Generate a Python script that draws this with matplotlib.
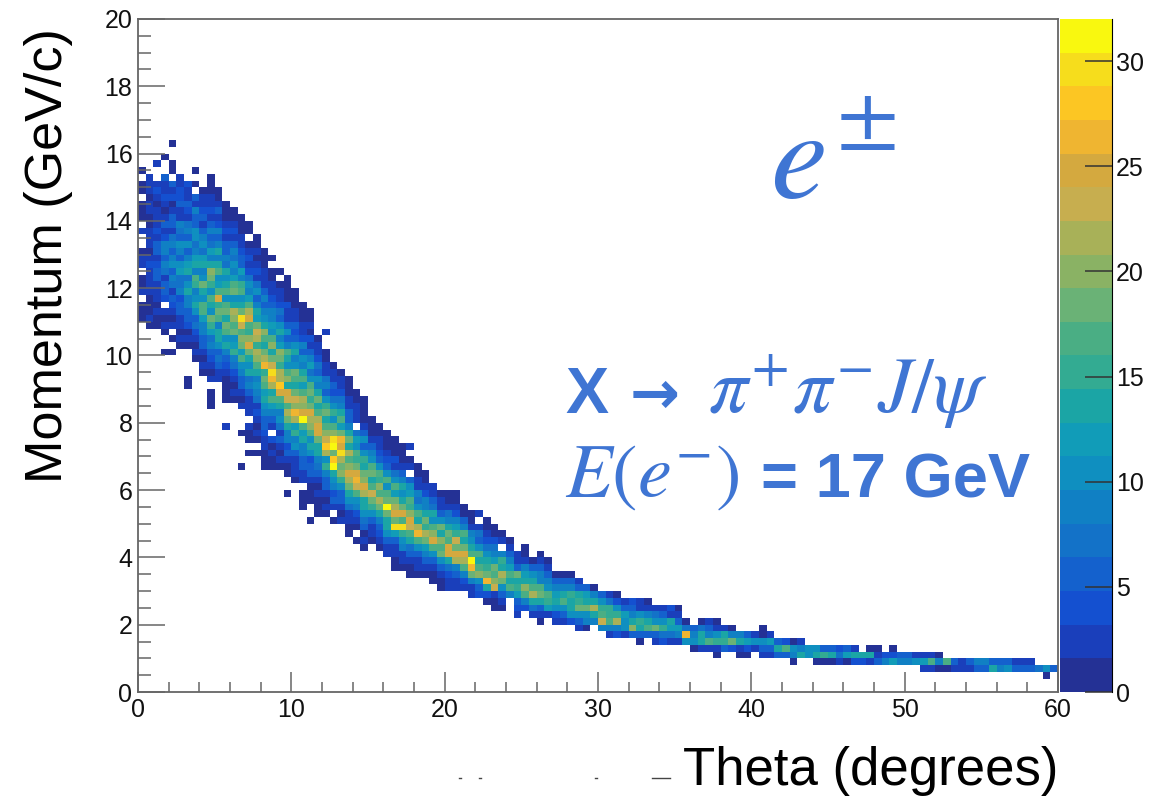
import numpy as np
import matplotlib
matplotlib.use('Agg')
import matplotlib.pyplot as plt
from matplotlib.colors import ListedColormap, BoundaryNorm
from matplotlib.lines import Line2D
from matplotlib.ticker import MultipleLocator

plt.rcParams['font.family'] = ['Liberation Sans', 'DejaVu Sans']
plt.rcParams['mathtext.fontset'] = 'stix'

# histogram binning: 120 bins in theta (0-60), 100 bins in momentum (0-20)
theta_edges = np.linspace(0, 60, 121)
mom_edges = np.linspace(0, 20, 101)

# counts, one list per theta bin, going up from the
# momentum bin in col_start
col_start = [55, 54, 54, 50, 50, 51, 45, 49, 47, 42, 46, 39, 43, 33, 35, 35, 33, 33, 33, 29,
             31, 27, 25, 26, 26, 25, 25, 23, 22, 21, 22, 21, 20, 18, 18, 17, 17, 17, 16, 15,
             15, 15, 15, 14, 14, 13, 12, 12, 14, 11, 12, 11, 10, 11, 10, 10, 10, 9, 9, 10,
             9, 8, 8, 8, 8, 7, 8, 7, 7, 7, 7, 7, 6, 6, 6, 5, 6, 6, 5, 5,
             6, 5, 5, 5, 5, 4, 5, 5, 4, 4, 4, 4, 4, 4, 4, 4, 4, 4, 4, 4,
             4, 4, 3, 3, 3, 3, 3, 3, 3, 3, 3, 3, 3, 3, 3, 3, 3, 3, 2, 3]
col_counts = [
    [1,1,1,0,2,1,1,0,2,3,1,0,0,2,0,1,1,1,0,1,1,0,1],
    [1,2,1,1,1,3,3,2,2,4,3,1,2,2,3,1,1,3,2,1,3,2,3],
    [1,1,3,1,3,2,2,5,6,4,3,5,6,3,4,2,3,3,1,2,4,3,0,0,3],
    [1,0,0,1,2,1,2,0,4,6,6,3,7,9,5,8,8,4,3,5,2,1,3,4,2,2,5,0,0,1],
    [1,0,1,0,3,1,2,4,6,3,7,8,5,10,9,5,8,7,3,6,6,2,1,4,3,5,0,1,1,0,0,1],
    [1,2,1,3,2,5,6,4,9,7,7,12,10,6,8,11,5,7,9,3,2,5,4,4,2,3],
    [1,1,0,0,0,0,1,2,1,4,6,5,9,8,13,11,7,14,12,8,6,10,5,9,7,3,4,6,3,2,4],
    [1,2,1,3,4,7,6,11,14,10,9,15,16,9,14,12,8,7,11,10,5,6,8,3,5,0,1,0,1],
    [1,2,1,3,6,5,9,8,12,16,17,10,13,18,11,9,14,12,7,10,9,5,3,6,4,2,2,1],
    [1,1,1,0,3,1,2,4,6,9,7,12,15,18,11,14,16,10,15,18,20,13,9,12,7,5,8,6,3,4,2,2,1,1,1],
    [2,3,5,7,6,10,14,13,9,17,19,15,24,16,12,11,17,14,9,13,8,6,9,4,3,5,2,1,1],
    [3,0,0,0,1,1,1,1,2,4,6,8,13,11,17,19,14,18,16,11,17,13,10,14,7,9,5,6,3,4,2,1,1,1],
    [1,2,1,2,4,7,9,15,12,10,18,17,20,21,14,11,19,16,12,9,10,7,8,5,3,4,2,1,1],
    [1,0,0,0,0,1,0,0,0,2,1,3,6,5,9,11,16,12,18,20,17,23,29,19,14,10,16,15,9,12,6,5,4,2,3,1,1,1],
    [1,0,1,1,2,0,2,3,2,5,8,7,13,10,14,19,25,20,15,17,24,22,16,12,8,11,7,4,2,4,2,1,0,1,1],
    [1,0,1,2,1,3,4,2,7,9,11,8,13,17,20,22,15,21,23,18,12,14,9,6,10,7,3,4,2,1,2,1,1],
    [1,1,1,3,2,4,6,5,8,11,14,12,16,18,15,27,22,19,14,17,20,13,10,8,6,9,5,3,3,2,1,1,1],
    [1,1,2,1,4,0,3,6,8,12,16,13,22,27,30,23,18,14,20,16,11,12,8,9,5,4,2,3,1,1,0,1],
    [1,2,1,2,5,3,7,11,9,14,17,24,28,21,22,15,18,20,12,9,14,10,6,7,4,2,3,1,0,1],
    [1,0,0,1,1,3,6,4,9,8,13,18,21,17,23,24,14,20,16,11,13,17,8,6,10,5,3,2,4,1,1,1,1],
    [1,2,3,3,6,10,9,15,12,21,26,20,23,18,14,16,19,11,8,13,10,6,4,5,3,2,1,1,1],
    [1,1,1,0,2,3,6,5,8,9,14,12,17,32,25,20,21,17,12,16,13,9,11,6,8,4,2,3,1,1,1],
    [1,0,0,1,1,1,3,6,5,4,10,14,11,16,20,22,24,18,15,19,16,11,7,12,8,5,3,4,1,2,1,1],
    [1,1,1,3,1,3,5,7,9,14,13,18,24,25,21,17,14,18,13,9,10,6,7,4,2,3,1],
    [1,2,1,3,5,6,9,15,11,21,28,23,20,17,14,18,15,10,6,9,7,3,2,1,1,0,0,3],
    [1,0,3,5,4,8,11,14,31,28,19,31,29,20,16,11,15,11,7,4,6,2,2,1],
    [2,1,3,5,6,11,15,20,18,22,29,24,26,19,12,16,13,9,7,4,3,2,1],
    [1,1,3,2,7,10,13,18,22,25,20,16,22,14,18,13,9,6,5,3,2,1,1,1],
    [1,0,1,3,4,8,11,17,23,27,24,19,15,16,10,12,7,0,2,3,2,1,1],
    [1,2,1,5,7,10,14,13,22,25,20,18,14,15,10,6,11,5,2,1,1,1,1],
    [1,2,3,5,11,15,19,23,17,14,19,16,11,9,6,3,1,1,1],
    [1,2,4,6,9,14,19,21,16,20,15,17,11,6,4,3,2,1,1],
    [2,3,5,10,13,14,18,31,19,17,11,16,10,6,4,2,1,1,1],
    [1,1,2,3,5,12,29,19,25,22,18,12,16,10,7,3,4,1,1,1],
    [1,2,3,8,10,15,29,16,24,19,14,10,14,8,5,3,1,1,1],
    [1,1,3,6,7,14,17,23,25,20,15,16,12,10,6,0,3,1,0,2],
    [1,2,2,5,11,16,26,21,14,17,11,7,9,3,2,1,1],
    [1,3,5,8,12,19,22,15,18,14,9,8,4,2,1,1],
    [1,1,3,6,11,16,24,20,17,11,14,7,5,2,2],
    [1,1,3,6,11,19,16,20,14,18,11,6,3,3,1],
    [2,2,4,7,13,25,24,17,19,14,8,7,3,1,1],
    [2,3,6,9,21,25,19,23,15,12,9,4,2,1,1],
    [3,4,8,16,22,24,18,14,16,8,5,1,1],
    [3,3,9,18,26,31,16,13,10,8,3,1,1],
    [4,6,11,20,17,13,16,11,6,7,2,0,2],
    [1,4,13,26,18,15,14,11,7,4,3,1,1],
    [1,1,3,23,20,16,18,12,9,7,4,1,1],
    [1,2,5,11,18,21,14,15,8,0,2,1],
    [8,16,14,17,12,9,5,3,1],
    [2,4,6,12,15,13,18,6,3,2],
    [4,9,17,20,13,12,8,2,1,1],
    [2,7,14,22,16,13,11,5,1],
    [1,3,6,14,19,17,9,8,5,2,1],
    [2,12,15,17,10,8,5,3,1],
    [3,4,10,14,12,8,6,1],
    [3,5,11,16,13,8,5,1],
    [4,10,14,14,15,8,5,1],
    [2,5,11,19,15,13,5,3],
    [1,9,11,18,13,12,6],
    [9,14,21,14,9,1],
    [8,23,17,15,10,6],
    [3,9,16,15,15,7,2],
    [4,8,22,15,11,4,1],
    [3,10,11,12,5,3],
    [5,20,14,9,5,4],
    [1,6,14,15,10,2,2],
    [6,17,14,9,3,1],
    [2,5,18,11,7,2],
    [4,7,15,10,5,2],
    [3,7,12,13,3,4],
    [2,9,12,6,2,1],
    [10,27,7,1],
    [1,11,8,6],
    [2,14,13,7,1],
    [3,17,9,5,2],
    [1,3,15,11,3,1],
    [5,15,14,2],
    [4,19,9,1],
    [1,3,14,9],
    [1,4,12,5],
    [3,11,3],
    [2,6,10,1,1],
    [3,5,12,2],
    [5,13,5],
    [6,17,4],
    [1,8,11,1],
    [14,9,2],
    [11,10],
    [1,14,11],
    [1,15,5],
    [1,14,5],
    [2,7,4],
    [1,12,5],
    [4,13,3],
    [4,13],
    [3,14,1],
    [6,2,1],
    [9,4],
    [12,4,1],
    [8,5],
    [9,6],
    [10,3],
    [3,12,2],
    [2,16,2],
    [1,8,1],
    [1,17],
    [3,5],
    [2,3],
    [2,5],
    [6,9],
    [6,8],
    [13,6],
    [9,5],
    [11,5],
    [5,3],
    [5,2],
    [6,3],
    [7],
    [1,10],
    [6],
]

# palette bands, bottom to top
band_colors = ['#243195', '#1a3fbb', '#1450d0', '#1461cd', '#1372c8', '#1080c4', '#0f8fc0',
               '#119cb8', '#1ba5a5', '#33ab92', '#4aae84', '#6ab276', '#8ab264', '#a8b158',
               '#c7ae4f', '#d4a93f', '#efb531', '#fcc623', '#f6dd1c', '#f9f80f']
band_edges = np.linspace(0, 32, 21)
cbar_ticks = [0, 5, 10, 15, 20, 25, 30]

x_label = 'Theta (degrees)'
y_label = 'Momentum (GeV/c)'
ink = '#3f75d3'
W, H = 1176.0, 798.0

grid = np.zeros((100, 120))
for i, (s, vals) in enumerate(zip(col_start, col_counts)):
    grid[s:s + len(vals), i] = vals

fig = plt.figure(figsize=(11.76, 7.98), dpi=100)
ax = fig.add_axes([138 / W, 1 - 692 / H, 920 / W, 673 / H])
cax = fig.add_axes([1060 / W, 1 - 692 / H, 52 / W, 673 / H])

cmap = ListedColormap(band_colors)
norm = BoundaryNorm(band_edges, cmap.N)
mesh = ax.pcolormesh(theta_edges, mom_edges, np.ma.masked_equal(grid, 0), cmap=cmap, norm=norm)

ax.set_xlim(0, 60)
ax.set_ylim(0, 20)
ax.xaxis.set_major_locator(MultipleLocator(10))
ax.xaxis.set_minor_locator(MultipleLocator(2))
ax.yaxis.set_major_locator(MultipleLocator(2))
ax.yaxis.set_minor_locator(MultipleLocator(0.5))
ax.tick_params(axis='x', which='major', direction='in', length=14.5, width=1.1, color='#666666',
               labelsize=18, labelcolor='#111111', pad=4)
ax.tick_params(axis='x', which='minor', direction='in', length=7, width=1.1, color='#666666')
ax.tick_params(axis='y', which='major', direction='in', length=19.5, width=1.1, color='#666666',
               labelsize=18, labelcolor='#111111', pad=4)
ax.tick_params(axis='y', which='minor', direction='in', length=9.5, width=1.1, color='#666666')
for sp in ax.spines.values():
    sp.set_linewidth(1.3)
    sp.set_color('#666666')

cb = fig.colorbar(mesh, cax=cax, ticks=cbar_ticks, spacing='proportional')
cb.outline.set_visible(False)
cax.spines['right'].set_visible(True)
cax.minorticks_off()
cax.tick_params(direction='in', length=19.5, width=1.1, color='#333333', labelsize=18,
                labelcolor='#111111', pad=3)

fig.text(1058 / W, 1 - 785 / H, x_label, fontsize=38, ha='right', va='baseline', color='black')
fig.text(62 / W, 1 - 483 / H, y_label, fontsize=37.5, rotation=90, ha='left', va='baseline',
         rotation_mode='anchor', color='black')


def put(x, y, s, size, **kw):
    fig.text(x / W, 1 - y / H, s, fontsize=size, color=ink, ha='left', va='baseline', **kw)


put(770, 198, r'$e$', 92)
put(836, 142, r'$\pm$', 65)
put(565, 413, 'X', 46.5, fontweight='bold')
put(630, 413, '\u2192', 43, family='DejaVu Sans', fontweight='bold')
put(708, 413, r'$\pi^{+}\pi^{-}J/\psi$', 56)
put(565, 497, r'$E(e^{-})$', 55)
put(761, 497, '= 17 GeV', 45.5, fontweight='bold')

# scan leftovers under the axis
for x0, x1 in [(459, 461), (479, 481), (595, 597), (652, 670)]:
    fig.add_artist(Line2D([x0 / W, x1 / W], [1 - 778 / H, 1 - 778 / H], color='#444444', lw=1))

plt.savefig('out.png', dpi=100)
